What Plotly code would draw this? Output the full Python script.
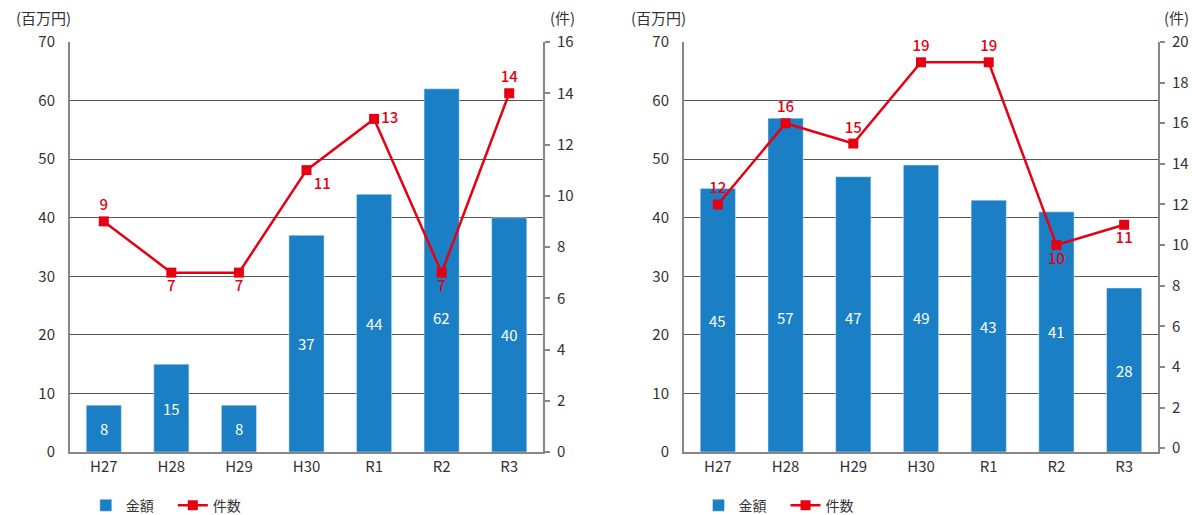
import plotly.graph_objects as go
from plotly.subplots import make_subplots

categories = ["H27", "H28", "H29", "H30", "R1", "R2", "R3"]
left_amount = [8, 15, 8, 37, 44, 62, 40]
left_count = [9, 7, 7, 11, 13, 7, 14]
right_amount = [45, 57, 47, 49, 43, 41, 28]
right_count = [12, 16, 15, 19, 19, 10, 11]
left_count_pos = ["top center", "bottom center", "bottom center", "bottom right",
                  "middle right", "bottom center", "top center"]
right_count_pos = ["top center", "top center", "top center", "top center",
                   "top center", "bottom center", "bottom center"]
label_cap = 23  # amount labels sit at half the bar height, capped at this value

BLUE = "#1a7fc4"
RED = "#e60012"
TXT = "#333333"
AX = "#8a8586"
GRID = "#555555"
FONT = "Noto Sans CJK JP"

fig = make_subplots(rows=1, cols=2, specs=[[{"secondary_y": True}, {"secondary_y": True}]])

for col, amt, cnt, pos, leg in [(1, left_amount, left_count, left_count_pos, "legend"),
                                (2, right_amount, right_count, right_count_pos, "legend2")]:
    fig.add_trace(go.Bar(x=categories, y=amt, name="金額", marker_color=BLUE,
                         width=0.52, legend=leg),
                  row=1, col=col, secondary_y=False)
    fig.add_trace(go.Scatter(x=categories, y=cnt, name="件数", mode="lines+markers+text",
                             line=dict(color=RED, width=2.5),
                             marker=dict(symbol="square", size=10, color=RED),
                             text=[str(v) for v in cnt], textposition=pos,
                             textfont=dict(color=RED, size=15, family=FONT, weight=500),
                             legend=leg, cliponaxis=False),
                  row=1, col=col, secondary_y=True)
    xr = "x" if col == 1 else "x2"
    yr = "y" if col == 1 else "y3"
    for c, v in zip(categories, amt):
        fig.add_annotation(x=c, y=min(v / 2, label_cap), xref=xr, yref=yr,
                           text=str(v), showarrow=False,
                           font=dict(color="white", size=15, family=FONT))

dom_y = [1 - 452 / 515, 1 - 42 / 515]
fig.update_layout(
    width=1192, height=515, margin=dict(l=0, r=0, t=0, b=0, autoexpand=False),
    plot_bgcolor="white", paper_bgcolor="white",
    font=dict(family=FONT, color=TXT, size=14),
    legend=dict(orientation="h", x=0.072, y=-0.013, xanchor="left", yanchor="bottom",
                font=dict(size=14, family=FONT, color=TXT), itemwidth=30,
                entrywidth=42, bgcolor="rgba(0,0,0,0)"),
    legend2=dict(orientation="h", x=0.586, y=-0.013, xanchor="left", yanchor="bottom",
                 font=dict(size=14, family=FONT, color=TXT), itemwidth=30,
                 entrywidth=42, bgcolor="rgba(0,0,0,0)"),
)

xdoms = [[70 / 1192, 543 / 1192], [684 / 1192, 1158 / 1192]]
for i, xd in enumerate(xdoms):
    xa = "xaxis" if i == 0 else "xaxis2"
    fig.layout[xa].update(domain=xd, showline=True, linecolor=AX, linewidth=2,
                          ticks="", tickfont=dict(size=15, color=TXT),
                          showgrid=False, fixedrange=True, automargin=False)

for ya in ["yaxis", "yaxis3"]:
    fig.layout[ya].update(domain=dom_y, range=[0, 70], dtick=10, showline=True,
                          linecolor=AX, linewidth=2, showgrid=True, gridcolor=GRID,
                          gridwidth=1, ticks="", ticklabelstandoff=10,
                          tickfont=dict(size=15, color=TXT), zeroline=False,
                          automargin=False)
fig.layout["yaxis2"].update(range=[0, 16], dtick=2, showline=True, linecolor=AX,
                            linewidth=2, showgrid=False, ticks="outside", ticklen=5,
                            tickcolor=AX, tickwidth=1.5, ticklabelstandoff=4,
                            tickfont=dict(size=15, color=TXT), zeroline=False,
                            automargin=False)
fig.layout["yaxis4"].update(range=[-0.19, 20], dtick=2, showline=True, linecolor=AX,
                            linewidth=2, showgrid=False, ticks="outside", ticklen=5,
                            tickcolor=AX, tickwidth=1.5, ticklabelstandoff=4,
                            tickfont=dict(size=15, color=TXT), zeroline=False,
                            automargin=False)

for x, txt in [(14, "(百万円)"), (548, "(件)"), (629, "(百万円)"), (1162, "(件)")]:
    fig.add_annotation(x=x / 1192, y=1 - 17 / 515, xref="paper", yref="paper",
                       xanchor="left", yanchor="middle", text=txt, showarrow=False,
                       font=dict(size=15, color=TXT, family=FONT))

fig.write_html("out.html")
